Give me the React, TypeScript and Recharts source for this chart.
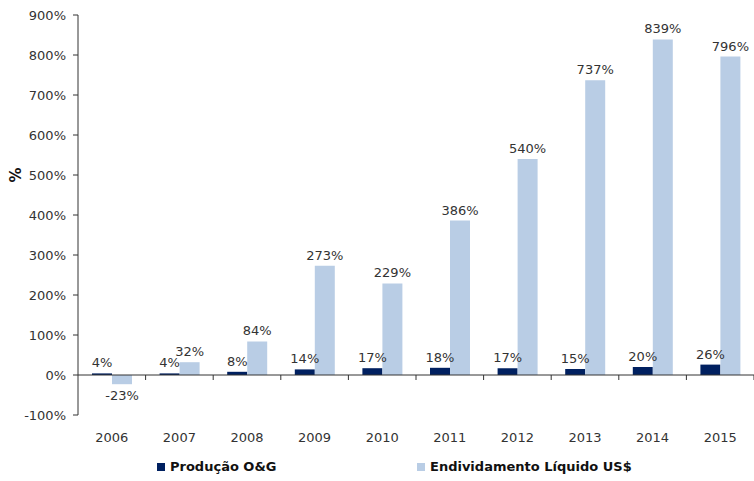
import React from 'react';
import { BarChart, Bar, XAxis, YAxis, ReferenceLine, LabelList } from 'recharts';

const years = ['2006', '2007', '2008', '2009', '2010', '2011', '2012', '2013', '2014', '2015'];
const producao = [4, 4, 8, 14, 17, 18, 17, 15, 20, 26];
const endividamento = [-23, 32, 84, 273, 229, 386, 540, 737, 839, 796];
const yTicks = [-100, 0, 100, 200, 300, 400, 500, 600, 700, 800, 900];

const DARK = '#002060';
const LIGHT = '#b9cde5';
const TEXT = '#333333';
const FONT = '"DejaVu Sans", Verdana, sans-serif';

const data = years.map((year, i) => ({
  year,
  producao: producao[i],
  endividamento: endividamento[i],
}));

const ValueLabel = (props: any) => {
  const { x, y, width, height, value } = props;
  const top = Math.min(y, y + height);
  const bottom = Math.max(y, y + height);
  const ty = value < 0 ? bottom + 16 : top - 6;
  return (
    <text x={x + width / 2} y={ty} textAnchor="middle" fontSize={13} fill={TEXT} fontFamily={FONT}>
      {`${value}%`}
    </text>
  );
};

const ZeroAxis = (props: any) => {
  const { x1, x2, y1 } = props;
  const step = (x2 - x1) / years.length;
  return (
    <g>
      <line x1={x1} x2={x2} y1={y1} y2={y1} stroke="#333" strokeWidth={1} />
      {years.map((_, i) => (
        <line key={i} x1={x1 + step * (i + 1)} x2={x1 + step * (i + 1)} y1={y1} y2={y1 + 5} stroke="#333" />
      ))}
    </g>
  );
};

const AxisTitle = (props: any) => {
  const { viewBox } = props;
  const cx = 16;
  const cy = viewBox.y + viewBox.height * 0.4;
  return (
    <text
      x={cx}
      y={cy}
      transform={`rotate(-90, ${cx}, ${cy})`}
      textAnchor="middle"
      dominantBaseline="middle"
      fontSize={15}
      fontWeight="bold"
      fill="#111"
      fontFamily={FONT}
    >
      %
    </text>
  );
};

const LegendItem = ({ color, label, left }: { color: string; label: string; left: number }) => (
  <div style={{ position: 'absolute', left, top: 0, display: 'flex', alignItems: 'center' }}>
    <span style={{ width: 8, height: 8, background: color, display: 'inline-block', marginRight: 5 }} />
    <span style={{ fontWeight: 'bold', fontSize: 13, color: '#111', fontFamily: FONT }}>{label}</span>
  </div>
);

export default function App() {
  return (
    <div style={{ position: 'absolute', left: 0, top: 0, width: 754, height: 481, background: '#fff' }}>
      <BarChart
        width={754}
        height={481}
        data={data}
        margin={{ top: 15, right: 0, left: 0, bottom: 0 }}
        barGap={0}
      >
        <XAxis
          dataKey="year"
          axisLine={false}
          tickLine={false}
          height={66}
          tickMargin={12}
          tick={{ fontSize: 13, fill: TEXT, fontFamily: FONT }}
        />
        <YAxis
          width={78}
          domain={[-100, 900]}
          ticks={yTicks}
          interval={0}
          tickFormatter={(v: number) => `${v}%`}
          axisLine={{ stroke: '#333' }}
          tickLine={{ stroke: '#333' }}
          tickSize={5}
          tickMargin={7}
          tick={{ fontSize: 13, fill: TEXT, fontFamily: FONT }}
          label={<AxisTitle />}
        />
        <Bar dataKey="producao" fill={DARK} barSize={20} isAnimationActive={false}>
          <LabelList dataKey="producao" content={<ValueLabel />} />
        </Bar>
        <Bar dataKey="endividamento" fill={LIGHT} barSize={20} isAnimationActive={false}>
          <LabelList dataKey="endividamento" content={<ValueLabel />} />
        </Bar>
        <ReferenceLine y={0} shape={<ZeroAxis />} />
      </BarChart>
      <div style={{ position: 'absolute', left: 0, top: 459, width: 754, height: 20 }}>
        <LegendItem color={DARK} label="Produção O&G" left={157} />
        <LegendItem color={LIGHT} label="Endividamento Líquido US$" left={417} />
      </div>
    </div>
  );
}
